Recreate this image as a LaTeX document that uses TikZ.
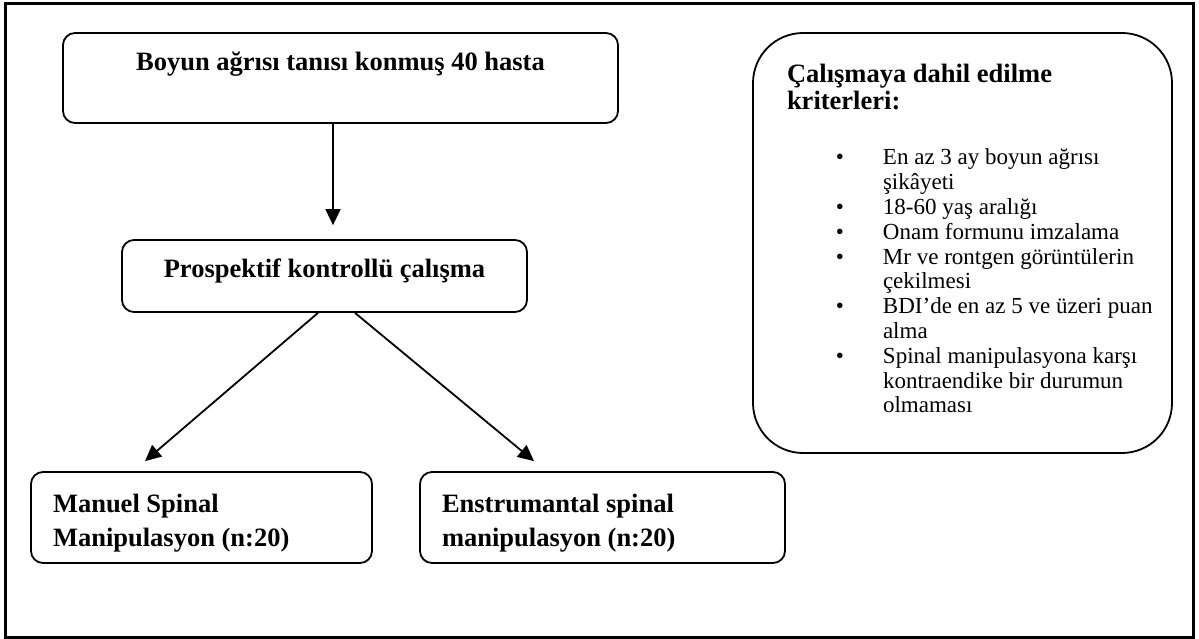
\documentclass[tikz,border=0pt]{standalone}
\usepackage{fontspec}
\setmainfont{Liberation Serif}
\usetikzlibrary{arrows.meta}
\newcommand{\critbullet}{\llap{\textbullet\hspace{39pt}}}
\begin{document}
\begin{tikzpicture}[x=1pt,y=-1pt,
  box/.style={draw, line width=1.8pt, rounded corners=12pt, inner sep=0pt,
    font=\fontsize{26.5}{34}\selectfont\bfseries},
  arr/.style={line width=1.8pt, -{Triangle[length=16pt,width=15pt]}}]
\useasboundingbox (0,0) rectangle (1199,639);
\draw[line width=3pt] (5,4) rectangle (1193,637);
\node[box, minimum width=555pt, minimum height=90pt, text height=38pt, text depth=52pt]
  (b1) at (340.5,78) {Boyun ağrısı tanısı konmuş 40 hasta};
\node[box, minimum width=405pt, minimum height=72pt, text height=37pt, text depth=35pt]
  (b2) at (324.5,276) {Prospektif kontrollü çalışma};
\node[box, inner xsep=22pt, text height=40pt, text depth=51pt]
  (b3) at (201.5,517.5) {\parbox[t]{297pt}{\raggedright Manuel Spinal\\Manipulasyon (n:20)}};
\node[box, inner xsep=22pt, text height=40pt, text depth=51pt]
  (b4) at (602.5,517.5) {\parbox[t]{321pt}{\raggedright Enstrumantal spinal\\manipulasyon (n:20)}};
\node[box, rounded corners=50pt, inner xsep=34pt, text height=50pt, text depth=370pt, font=\normalfont]
  (crit) at (962.5,243) {\parbox[t]{351pt}{%
    {\fontsize{26.5}{27}\selectfont\bfseries Çalışmaya dahil edilme\\kriterleri:\par}%
    \vspace{30.2pt}%
    {\fontsize{23}{24.8}\selectfont\leftskip=96pt\relax
    \noindent\critbullet\mbox{En az 3 ay boyun ağrısı}\\
    \mbox{şikâyeti}\\
    \critbullet\mbox{18-60 yaş aralığı}\\
    \critbullet\mbox{Onam formunu imzalama}\\
    \critbullet\mbox{Mr ve rontgen görüntülerin}\\
    \mbox{çekilmesi}\\
    \critbullet\mbox{BDI’de en az 5 ve üzeri puan}\\
    \mbox{alma}\\
    \critbullet\mbox{Spinal manipulasyona karşı}\\
    \mbox{kontraendike bir durumun}\\
    \mbox{olmaması}\par}}};
\draw[arr] ([xshift=-7.5pt]b1.south) -- ([xshift=8.5pt,yshift=14pt]b2.north);
\draw[arr] ([xshift=-6.5pt]b2.south) -- ([xshift=-56.5pt,yshift=10pt]b3.north);
\draw[arr] ([xshift=30.5pt]b2.south) -- ([xshift=-68.5pt,yshift=10pt]b4.north);
\end{tikzpicture}
\end{document}
